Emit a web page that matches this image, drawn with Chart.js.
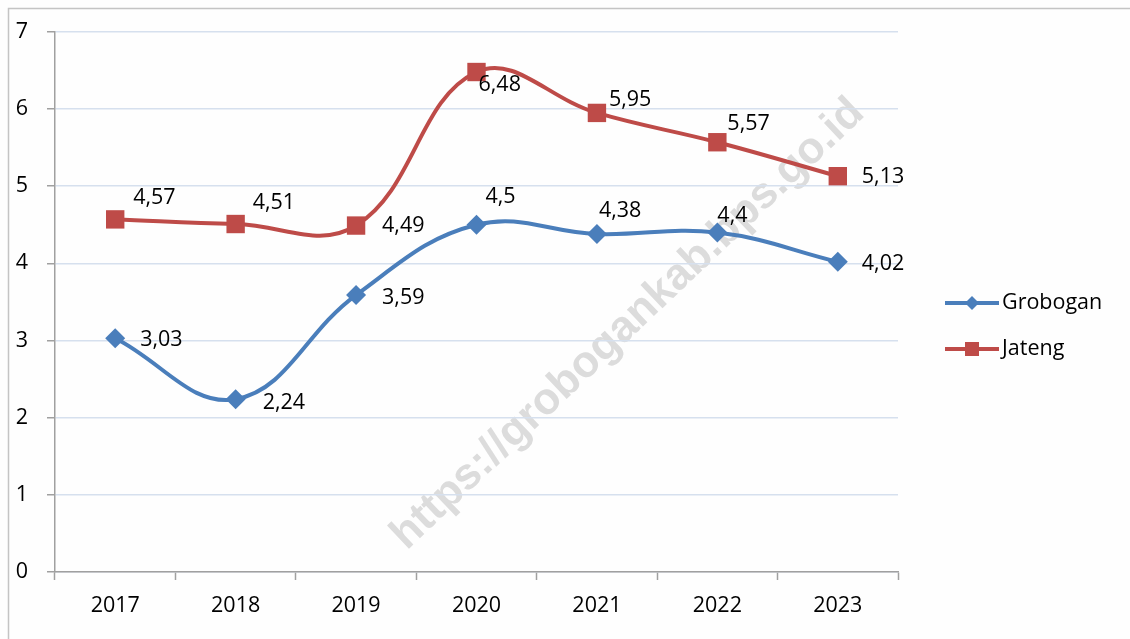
<!DOCTYPE html>
<html>
<head>
<meta charset="utf-8">
<script src="https://cdn.jsdelivr.net/npm/chart.js@4"></script>
<style>
	html, body { margin: 0; padding: 0; background: #fff; }
	#wrap { width: 1130px; height: 639px; position: relative; }
</style>
</head>
<body>
<div id="wrap"><canvas id="chart" width="1130" height="639"></canvas></div>
<script>
// chart data
const years = ['2017', '2018', '2019', '2020', '2021', '2022', '2023'];
const grobogan = [3.03, 2.24, 3.59, 4.5, 4.38, 4.4, 4.02];
const jateng = [4.57, 4.51, 4.49, 6.48, 5.95, 5.57, 5.13];
const yTicks = [0, 1, 2, 3, 4, 5, 6, 7];

const FONT = 'Open Sans';
const FONT_SIZE = 21.5;
const BLUE = '#4a7ebb';
const RED = '#be4b48';

// label nudges (px) relative to each point, left-aligned text
const labelShift = {
	Grobogan: [[25, 2], [27, 4], [26, 3], [9, -28], [2, -23], [0, -17], [24, 2]],
	Jateng: [[18, -22], [17, -21], [26, 0], [2, 13], [12, -13], [10, -18], [24, 1]],
};

const fmt = (v) => String(v).replace('.', ',');

const framePlugin = {
	id: 'frame',
	beforeDraw(chart) {
		const ctx = chart.ctx;
		ctx.save();
		ctx.fillStyle = '#fefefe';
		ctx.fillRect(0, 0, chart.width, chart.height);
		ctx.strokeStyle = '#c4c4c4';
		ctx.lineWidth = 1.5;
		ctx.beginPath();
		ctx.moveTo(8.5, chart.height);
		ctx.lineTo(8.5, 8.5);
		ctx.lineTo(chart.width, 8.5);
		ctx.stroke();

		// watermark
		ctx.translate(628, 324);
		ctx.rotate(-Math.atan2(460, 485));
		ctx.font = 'bold 44px "Liberation Sans", Arial, sans-serif';
		ctx.fillStyle = '#dcdcdc';
		ctx.textAlign = 'center';
		ctx.textBaseline = 'middle';
		ctx.fillText('https://grobogankab.bps.go.id', 0, 0);
		ctx.restore();
	},
};

const labelPlugin = {
	id: 'pointLabels',
	afterDatasetsDraw(chart) {
		const ctx = chart.ctx;
		ctx.save();
		ctx.font = FONT_SIZE + 'px "' + FONT + '"';
		ctx.fillStyle = '#000';
		ctx.textAlign = 'left';
		ctx.textBaseline = 'middle';
		chart.data.datasets.forEach((ds, i) => {
			const meta = chart.getDatasetMeta(i);
			meta.data.forEach((pt, j) => {
				const [dx, dy] = labelShift[ds.label][j];
				ctx.fillText(fmt(ds.data[j]), pt.x + dx, pt.y + dy);
			});
		});
		ctx.restore();
	},
};

const legendPlugin = {
	id: 'sideLegend',
	afterDraw(chart) {
		const ctx = chart.ctx;
		ctx.save();
		const items = [
			{ label: 'Grobogan', color: BLUE, shape: 'diamond', y: 303 },
			{ label: 'Jateng', color: RED, shape: 'square', y: 349 },
		];
		items.forEach((it) => {
			ctx.strokeStyle = it.color;
			ctx.lineWidth = 4;
			ctx.beginPath();
			ctx.moveTo(945, it.y);
			ctx.lineTo(999, it.y);
			ctx.stroke();
			ctx.fillStyle = it.color;
			ctx.beginPath();
			if (it.shape === 'diamond') {
				ctx.moveTo(972, it.y - 7);
				ctx.lineTo(979, it.y);
				ctx.lineTo(972, it.y + 7);
				ctx.lineTo(965, it.y);
			} else {
				ctx.rect(965, it.y - 7, 14, 14);
			}
			ctx.fill();
			ctx.fillStyle = '#000';
			ctx.font = FONT_SIZE + 'px "' + FONT + '"';
			ctx.textBaseline = 'middle';
			ctx.fillText(it.label, 1002, it.y);
		});
		ctx.restore();
	},
};

new Chart(document.getElementById('chart').getContext('2d'), {
	type: 'line',
	data: {
		labels: years,
		datasets: [
			{
				label: 'Grobogan',
				data: grobogan,
				borderColor: BLUE,
				backgroundColor: BLUE,
				borderWidth: 4,
				tension: 0.4,
				pointStyle: 'rectRot',
				pointRadius: 10,
				pointHoverRadius: 10,
				pointBorderWidth: 0,
			},
			{
				label: 'Jateng',
				data: jateng,
				borderColor: RED,
				backgroundColor: RED,
				borderWidth: 4,
				tension: 0.4,
				pointStyle: 'rect',
				pointRadius: 13,
				pointHoverRadius: 13,
				pointBorderWidth: 0,
			},
		],
	},
	options: {
		responsive: false,
		animation: false,
		events: [],
		layout: { padding: { left: 0, right: 232, top: 29, bottom: 17 } },
		plugins: {
			legend: { display: false },
			tooltip: { enabled: false },
		},
		scales: {
			x: {
				offset: true,
				grid: {
					offset: true,
					drawOnChartArea: false,
					drawTicks: true,
					tickLength: 8,
					tickColor: '#a0a0a0',
					tickWidth: 1.5,
				},
				border: { color: '#a0a0a0', width: 1.5 },
				ticks: {
					color: '#000',
					font: { family: FONT, size: FONT_SIZE },
					padding: 13,
					maxRotation: 0,
				},
				afterFit(scale) { scale.height = 50; },
			},
			y: {
				min: 0,
				max: 7,
				afterBuildTicks(scale) { scale.ticks = yTicks.map((v) => ({ value: v })); },
				grid: {
					color: '#d6e0ee',
					lineWidth: 1.5,
					drawTicks: true,
					tickLength: 8,
					tickColor: '#a0a0a0',
				},
				border: { color: '#a0a0a0', width: 1.5 },
				ticks: {
					color: '#000',
					font: { family: FONT, size: FONT_SIZE },
					padding: 19,
				},
				afterFit(scale) { scale.width = 55; },
			},
		},
	},
	plugins: [framePlugin, labelPlugin, legendPlugin],
});
</script>
</body>
</html>
